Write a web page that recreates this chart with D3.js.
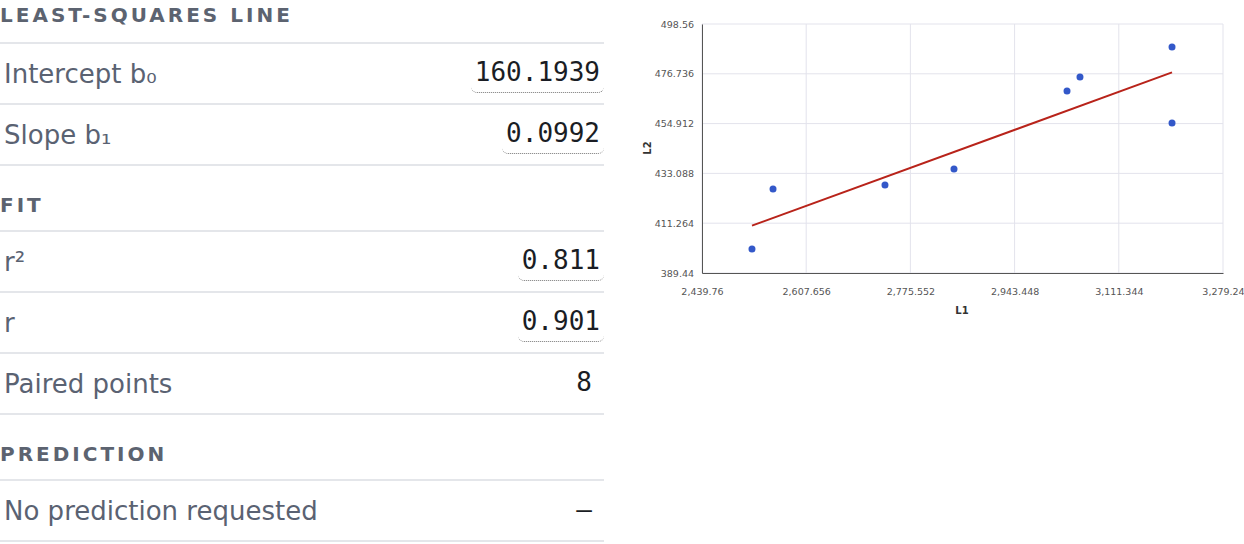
<!DOCTYPE html>
<html><head><meta charset="utf-8">
<script src="https://cdn.jsdelivr.net/npm/d3@7"></script>
<style>
body{margin:0;width:1244px;height:544px;overflow:hidden;background:#fff;font-family:"DejaVu Sans",sans-serif;}
#left{position:absolute;left:0;top:0;width:604px;height:544px;}
.hdr{position:absolute;left:0;font-weight:bold;letter-spacing:3px;color:#5c6370;font-size:20px;line-height:26px;}
.ln{position:absolute;left:0;width:604px;height:0;border-top:2px solid #e4e6ea;}
.lab{position:absolute;left:4px;font-size:26px;color:#5a6272;line-height:32px;}
.val{position:absolute;right:0;font-family:"DejaVu Sans Mono",monospace;font-size:26px;color:#1a1d24;line-height:30px;padding:0 4px 5px 4px;}
.val.u{border-bottom:1.5px dotted #777;border-radius:0 0 6px 6px;}
.val.p{right:8px;}
#chart{position:absolute;left:0;top:0;}
</style></head><body>
<div id="left"></div>
<svg id="chart" width="1244" height="544"></svg>
<script>
const intercept=160.1939, slope=0.0992, r2=0.811, r=0.901, nPairs=8;
const xs=[2520.3,2554.2,2734.6,2845.8,3027.9,3048.8,3197.1,3197.1];
const ys=[400.0,426.3,428.0,435.0,469.2,475.3,488.5,455.2];
const xTicks=[2439.76,2607.656,2775.552,2943.448,3111.344,3279.24];
const yTicks=[389.44,411.264,433.088,454.912,476.736,498.56];
const sections=[
 {t:"LEAST-SQUARES LINE",rows:[["Intercept b₀","160.1939",1],["Slope b₁","0.0992",1]]},
 {t:"FIT",rows:[["r²","0.811",1],["r","0.901",1],["Paired points",String(nPairs),0]]},
 {t:"PREDICTION",rows:[["No prediction requested","—",0]]}
];
const L=d3.select("#left");
let prev=-25;
sections.forEach((s,i)=>{
  const hc=prev+40;
  L.append("div").attr("class","hdr").style("top",(hc-13)+"px").text(s.t);
  let top=hc+(i?26:28);
  L.append("div").attr("class","ln").style("top",(top-1)+"px");
  s.rows.forEach(rw=>{
    const h=61, c=top+h/2-1;
    L.append("div").attr("class","lab").style("top",(c-16+1)+"px").text(rw[0]);
    L.append("div").attr("class","val"+(rw[2]?" u":" p")).style("top",(c-15-1)+"px").text(rw[1]);
    top+=h;
    L.append("div").attr("class","ln").style("top",(top-1)+"px");
  });
  prev=top;
});
const svg=d3.select("#chart");
const x=d3.scaleLinear().domain([2439.76,3279.24]).range([702,1223]);
const y=d3.scaleLinear().domain([389.44,498.56]).range([273,24]);
const g=svg.append("g");
g.selectAll(".gx").data(xTicks).join("line").attr("x1",d=>x(d)).attr("x2",d=>x(d)).attr("y1",24).attr("y2",273).attr("stroke","#e3e3ec");
g.selectAll(".gy").data(yTicks).join("line").attr("y1",d=>y(d)).attr("y2",d=>y(d)).attr("x1",702).attr("x2",1223).attr("stroke","#e3e3ec");
const fmt=d3.format(",");
svg.append("g").attr("transform","translate(0,273)").call(d3.axisBottom(x).tickValues(xTicks).tickFormat(fmt).tickSize(0).tickPadding(15))
 .call(a=>{a.select(".domain").attr("stroke","#555");a.selectAll("text").attr("font-size",9.5).attr("fill","#555").attr("font-family","DejaVu Sans");});
svg.append("g").attr("transform","translate(702,0)").call(d3.axisLeft(y).tickValues(yTicks).tickFormat(fmt).tickSize(0).tickPadding(8))
 .call(a=>{a.select(".domain").attr("stroke","#555");a.selectAll("text").attr("font-size",9.5).attr("fill","#555").attr("font-family","DejaVu Sans");});
svg.append("text").attr("x",962).attr("y",314).attr("text-anchor","middle").attr("font-size",10).attr("font-weight","bold").attr("fill","#333").text("L1");
svg.append("text").attr("transform","translate(651,148) rotate(-90)").attr("text-anchor","middle").attr("font-size",10).attr("font-weight","bold").attr("fill","#333").text("L2");
const x0=d3.min(xs),x1=d3.max(xs);
svg.append("line").attr("x1",x(x0)).attr("y1",y(intercept+slope*x0)).attr("x2",x(x1)).attr("y2",y(intercept+slope*x1)).attr("stroke","#b8231a").attr("stroke-width",2);
svg.selectAll(".pt").data(xs).join("circle").attr("cx",d=>x(d)).attr("cy",(d,i)=>y(ys[i])).attr("r",3.5).attr("fill","#3358c9");
</script></body></html>
